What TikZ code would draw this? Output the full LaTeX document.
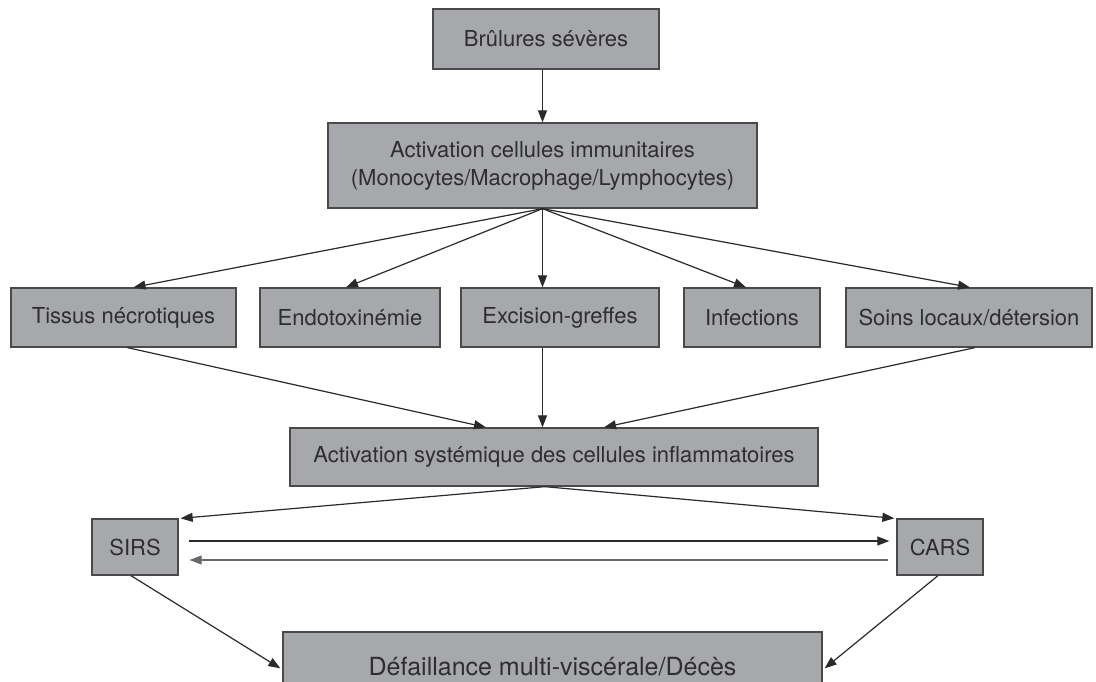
\documentclass[tikz,border=0pt]{standalone}
\usepackage{fontspec}
\setmainfont{TeX Gyre Heros}
\usetikzlibrary{arrows.meta,calc}
\definecolor{boxfill}{HTML}{A7A8AB}
\definecolor{boxline}{HTML}{4A4A4A}
\definecolor{txtcol}{HTML}{2E2E2E}
\definecolor{lncol}{HTML}{2A2A2A}
\definecolor{lncolb}{HTML}{6A6A6A}
\begin{document}
\begin{tikzpicture}[x=1pt,y=-1pt,
  box/.style={draw=boxline, fill=boxfill, line width=1.3pt, text=txtcol,
    font=\fontsize{22}{28}\selectfont, inner sep=0pt, align=center},
  arr/.style={draw=lncol, line width=1.2pt, -{Triangle[length=12pt,width=9pt]}},
  arrb/.style={draw=lncolb, line width=1.2pt, -{Triangle[length=12pt,width=9pt]}}]
\useasboundingbox (0,0) rectangle (1096,682);
\clip (0,0) rectangle (1096,682);
\fill[white] (0,0) rectangle (1096,682);

\node[box, minimum width=226pt, minimum height=60pt] (top) at (546,39) {Brûlures sévères};
\node[box, minimum width=429pt, minimum height=85pt] (imm) at (542.5,165.5) {Activation cellules immunitaires\\(Monocytes/Macrophage/Lymphocytes)};

\node[box, minimum width=225pt, minimum height=59pt] (tis) at (123.5,317.5) {Tissus nécrotiques};
\node[box, minimum width=180pt, minimum height=59pt] (endo) at (350,317.5) {Endotoxinémie};
\node[box, minimum width=198pt, minimum height=59pt] (exc) at (560,317.5) {Excision-greffes};
\node[box, minimum width=136pt, minimum height=59pt] (inf) at (752,317.5) {Infections};
\node[box, minimum width=246pt, minimum height=59pt] (soins) at (969,317.5) {Soins locaux/détersion};

\node[box, minimum width=528pt, minimum height=58pt] (syst) at (554,457) {Activation systémique des cellules inflammatoires};

\node[box, minimum width=86pt, minimum height=56pt] (sirs) at (135,547) {SIRS};
\node[box, minimum width=86pt, minimum height=56pt] (cars) at (940,547) {CARS};

\node[box, font=\fontsize{25}{30}\selectfont, minimum width=539pt, minimum height=70pt] (def) at (552.5,667) {Défaillance multi-viscérale/Décès};

% top to immune
\draw[arr] (imm.north |- top.south) -- (imm.north);

% immune to the five
\coordinate (ib) at (imm.south);
\draw[arr] (ib) -- ($(tis.north)+(10,0)$);
\draw[arr] (ib) -- ($(endo.north)+(-4,0)$);
\draw[arr] (ib) -- (ib |- exc.north);
\draw[arr] (ib) -- ($(inf.north)+(-6,0)$);
\draw[arr] (ib) -- ($(soins.north)+(1,0)$);

% five to systemic
\draw[arr] ($(tis.south)+(4,0)$) -- ($(syst.north)+(-68,0)$);
\draw[arr] (ib |- exc.south) -- (ib |- syst.north);
\draw[arr] ($(soins.south)+(6,0)$) -- ($(syst.north)+(50,0)$);

% systemic to SIRS / CARS
\coordinate (sb) at ($(syst.south)+(-9,0)$);
\draw[arr] (sb) -- ($(sirs.north east)+(2,0)$);
\draw[arr] (sb) -- ($(cars.north west)+(-2,0)$);

% SIRS <-> CARS
\draw[arr] ($(sirs.east)+(10,-6)$) -- ($(cars.west)+(-7,-6)$);
\draw[arrb] ($(cars.west)+(-8,13)$) -- ($(sirs.east)+(11,13)$);

% to failure
\draw[arr] ($(sirs.south)+(-4,0)$) -- ($(def.north west)+(-2,37)$);
\draw[arr] ($(cars.south)+(-2,0)$) -- ($(def.north east)+(2,37)$);
\end{tikzpicture}
\end{document}
